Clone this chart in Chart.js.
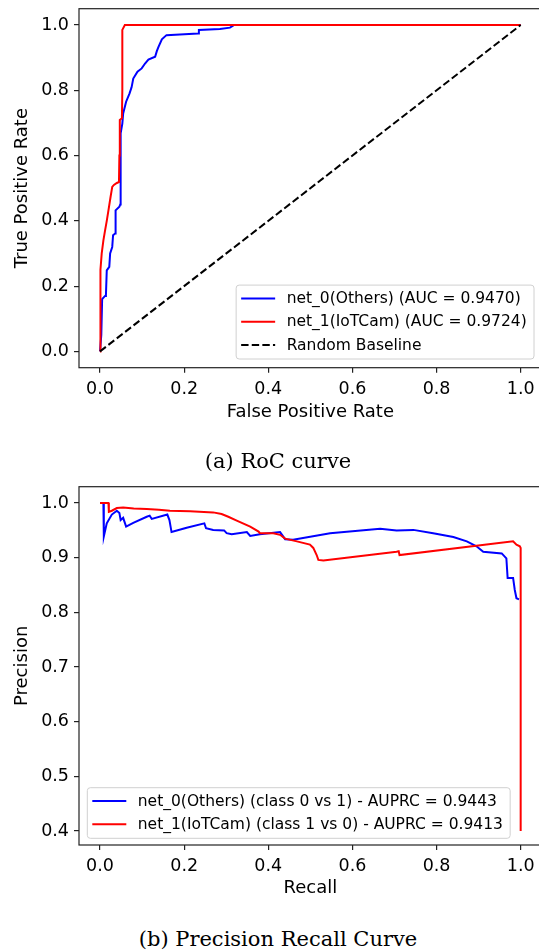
<!DOCTYPE html>
<html><head><meta charset="utf-8">
<script src="https://cdn.jsdelivr.net/npm/chart.js@4.4.0/dist/chart.umd.min.js"></script>
<style>
html,body{margin:0;padding:0;background:#fff;overflow:hidden;width:539px;height:951px;}
canvas{position:absolute;left:0;}
#c1{top:0}
#c2{top:470px}
.cap{position:absolute;left:0;width:556px;text-align:center;font-family:"DejaVu Serif";font-size:21px;color:#000;line-height:24px;white-space:nowrap;}
</style></head><body>
<canvas id="c1" width="545" height="430"></canvas>
<canvas id="c2" width="545" height="436"></canvas>
<div class="cap" style="top:449px">(a) RoC curve</div>
<div class="cap" style="top:927px">(b) Precision Recall Curve</div>
<script>
// ---------- data ----------
const rocXTicks = [0, 0.2, 0.4, 0.6, 0.8, 1.0];
const rocYTicks = [0, 0.2, 0.4, 0.6, 0.8, 1.0];
const prXTicks = [0, 0.2, 0.4, 0.6, 0.8, 1.0];
const prYTicks = [0.4, 0.5, 0.6, 0.7, 0.8, 0.9, 1.0];

const roc0Fpr = [0, 0.003, 0.005, 0.012, 0.014, 0.016, 0.022, 0.024, 0.029, 0.031, 0.036, 0.037, 0.046, 0.048, 0.049, 0.053, 0.055, 0.062, 0.070, 0.075, 0.079, 0.089, 0.099, 0.107, 0.115, 0.131, 0.135, 0.139, 0.147, 0.158, 0.190, 0.233, 0.235, 0.285, 0.309, 0.319, 1.0];
const roc0Tpr = [0, 0.05, 0.16, 0.17, 0.172, 0.248, 0.259, 0.300, 0.320, 0.356, 0.361, 0.432, 0.443, 0.450, 0.668, 0.698, 0.729, 0.765, 0.790, 0.809, 0.836, 0.857, 0.867, 0.882, 0.894, 0.903, 0.920, 0.933, 0.956, 0.969, 0.971, 0.974, 0.985, 0.988, 0.992, 1.0, 1.0];

const roc1Fpr = [0, 0, 0.002, 0.004, 0.008, 0.012, 0.016, 0.020, 0.025, 0.029, 0.033, 0.040, 0.045, 0.046, 0.047, 0.052, 0.053, 0.053, 0.059, 1.0];
const roc1Tpr = [0, 0.10, 0.25, 0.30, 0.34, 0.371, 0.40, 0.432, 0.473, 0.504, 0.510, 0.516, 0.519, 0.60, 0.709, 0.714, 0.80, 0.985, 1.0, 1.0];

const baseFpr = [0, 1];
const baseTpr = [0, 1];

const pr0Recall = [0, 0.008, 0.009, 0.016, 0.028, 0.040, 0.046, 0.049, 0.055, 0.062, 0.079, 0.111, 0.118, 0.123, 0.160, 0.165, 0.170, 0.206, 0.248, 0.252, 0.269, 0.295, 0.301, 0.313, 0.349, 0.357, 0.380, 0.428, 0.440, 0.459, 0.547, 0.666, 0.705, 0.745, 0.792, 0.840, 0.872, 0.895, 0.911, 0.955, 0.966, 0.969, 0.982, 0.986, 0.990, 0.996];
const pr0Precision = [1.0, 1.0, 0.939, 0.963, 0.979, 0.986, 0.982, 0.969, 0.973, 0.957, 0.964, 0.975, 0.977, 0.971, 0.979, 0.969, 0.947, 0.955, 0.963, 0.954, 0.951, 0.950, 0.945, 0.943, 0.947, 0.940, 0.943, 0.947, 0.934, 0.933, 0.945, 0.953, 0.950, 0.951, 0.945, 0.938, 0.930, 0.921, 0.911, 0.908, 0.899, 0.863, 0.863, 0.841, 0.826, 0.824];

const pr1Recall = [0, 0.020, 0.021, 0.028, 0.040, 0.055, 0.080, 0.111, 0.140, 0.166, 0.214, 0.269, 0.289, 0.305, 0.325, 0.357, 0.377, 0.380, 0.412, 0.428, 0.440, 0.468, 0.499, 0.507, 0.515, 0.519, 0.531, 0.705, 0.710, 0.712, 0.982, 0.990, 0.998, 1.0, 1.0];
const pr1Precision = [1.0, 1.0, 0.984, 0.986, 0.991, 0.992, 0.990, 0.989, 0.988, 0.986, 0.985, 0.983, 0.980, 0.975, 0.968, 0.957, 0.948, 0.945, 0.945, 0.942, 0.935, 0.930, 0.924, 0.918, 0.905, 0.896, 0.895, 0.911, 0.912, 0.905, 0.930, 0.924, 0.921, 0.918, 0.400];

const rocLabels = ['net_0(Others) (AUC = 0.9470)', 'net_1(IoTCam) (AUC = 0.9724)', 'Random Baseline'];
const prLabels = ['net_0(Others) (class 0 vs 1) - AUPRC = 0.9443', 'net_1(IoTCam) (class 1 vs 0) - AUPRC = 0.9413'];
const xTitleRoc = 'False Positive Rate', yTitleRoc = 'True Positive Rate';
const xTitlePr = 'Recall', yTitlePr = 'Precision';

// ---------- helpers ----------
const FONT = 'DejaVu Sans';
const pts = (xs, ys) => xs.map((x, i) => ({x: x, y: ys[i]}));

const framePlugin = {
  id: 'frameLegend',
  afterDraw(chart, args, o) {
    const ctx = chart.ctx, a = chart.chartArea;
    ctx.save();
    ctx.strokeStyle = '#222';
    ctx.lineWidth = 1.2;
    ctx.strokeRect(a.left, a.top, a.right - a.left, a.bottom - a.top);
    // legend
    const ds = chart.data.datasets;
    ctx.font = '15.5px "' + FONT + '"';
    let maxW = 0;
    ds.forEach(d => { maxW = Math.max(maxW, ctx.measureText(d.label).width); });
    const padL = 5, lineLen = 34, gap = 11.5, padR = 7.3, padT = 13.3, padB = 14, rowH = 23.3;
    const w = padL + lineLen + gap + maxW + padR;
    const h = padT + (ds.length - 1) * rowH + padB;
    let x0, y0;
    if (o.corner === 'br') { x0 = a.right - o.dx - w; y0 = a.bottom - o.dy - h; }
    else { x0 = a.left + o.dx; y0 = a.bottom - o.dy - h; }
    ctx.beginPath();
    if (ctx.roundRect) ctx.roundRect(x0, y0, w, h, 3); else ctx.rect(x0, y0, w, h);
    ctx.fillStyle = 'rgba(255,255,255,0.85)';
    ctx.fill();
    ctx.strokeStyle = '#d0d0d0';
    ctx.lineWidth = 1;
    ctx.stroke();
    ds.forEach((d, i) => {
      const cy = y0 + padT + i * rowH;
      ctx.beginPath();
      ctx.setLineDash(d.borderDash || []);
      ctx.strokeStyle = d.borderColor;
      ctx.lineWidth = 2;
      ctx.moveTo(x0 + padL, cy);
      ctx.lineTo(x0 + padL + lineLen, cy);
      ctx.stroke();
      ctx.setLineDash([]);
      ctx.fillStyle = '#000';
      ctx.textBaseline = 'middle';
      ctx.textAlign = 'left';
      ctx.fillText(d.label, x0 + padL + lineLen + gap, cy + 0.5);
    });
    ctx.restore();
  }
};

function xScale(ticks, min, max, title, h) {
  return {
    type: 'linear', min: min, max: max,
    afterBuildTicks: s => { s.ticks = ticks.map(v => ({value: v})); },
    afterFit: s => { s.height = h; s.paddingLeft = 0; s.paddingRight = 0; },
    ticks: {callback: v => Number(v).toFixed(1), color: '#000', font: {family: FONT, size: 17.5}, padding: 6, maxRotation: 0, autoSkip: false},
    grid: {drawOnChartArea: false, drawTicks: true, tickLength: 5, color: '#222', lineWidth: 1.2},
    border: {display: false},
    title: {display: true, text: title, color: '#000', font: {family: FONT, size: 18}, padding: {top: 0, bottom: 7.2}}
  };
}
function yScale(ticks, min, max, title) {
  return {
    type: 'linear', min: min, max: max,
    afterBuildTicks: s => { s.ticks = ticks.map(v => ({value: v})); },
    afterFit: s => { s.width = 79; s.paddingTop = 0; s.paddingBottom = 0; },
    ticks: {callback: v => Number(v).toFixed(1), color: '#000', font: {family: FONT, size: 17.5}, padding: 5, autoSkip: false},
    grid: {drawOnChartArea: false, drawTicks: true, tickLength: 5, color: '#222', lineWidth: 1.2},
    border: {display: false},
    title: {display: true, text: title, color: '#000', font: {family: FONT, size: 18}, padding: {top: 11.7, bottom: 0}}
  };
}
function line(label, xs, ys, color, order, dash) {
  return {label: label, data: pts(xs, ys), borderColor: color, backgroundColor: color, borderWidth: 2,
    showLine: true, pointRadius: 0, fill: false, tension: 0, order: order, borderDash: dash || []};
}
const common = {
  responsive: false, animation: false, devicePixelRatio: 1,
  plugins: {legend: {display: false}, tooltip: {enabled: false}}
};

new Chart(document.getElementById('c1'), {
  type: 'scatter',
  data: {datasets: [
    line(rocLabels[0], roc0Fpr, roc0Tpr, '#0000ff', 3),
    line(rocLabels[1], roc1Fpr, roc1Tpr, '#ff0000', 2),
    line(rocLabels[2], baseFpr, baseTpr, '#000000', 1, [7.4, 3.2])
  ]},
  options: Object.assign({}, common, {
    layout: {padding: {left: 0, top: 8.7, right: 3.3, bottom: 0}},
    scales: {
      x: xScale(rocXTicks, -0.05, 1.05, xTitleRoc, 62.3),
      y: yScale(rocYTicks, -0.05, 1.05, yTitleRoc)
    },
    plugins: Object.assign({}, common.plugins, {frameLegend: {corner: 'br', dx: 7.7, dy: 8.7}})
  }),
  plugins: [framePlugin]
});

new Chart(document.getElementById('c2'), {
  type: 'scatter',
  data: {datasets: [
    line(prLabels[0], pr0Recall, pr0Precision, '#0000ff', 2),
    line(prLabels[1], pr1Recall, pr1Precision, '#ff0000', 1)
  ]},
  options: Object.assign({}, common, {
    layout: {padding: {left: 0, top: 16.7, right: 3.3, bottom: 0}},
    scales: {
      x: xScale(prXTicks, -0.05, 1.05, xTitlePr, 61),
      y: yScale(prYTicks, 0.3745, 1.03, yTitlePr)
    },
    plugins: Object.assign({}, common.plugins, {frameLegend: {corner: 'bl', dx: 8.3, dy: 6.7}})
  }),
  plugins: [framePlugin]
});
</script>
</body></html>
